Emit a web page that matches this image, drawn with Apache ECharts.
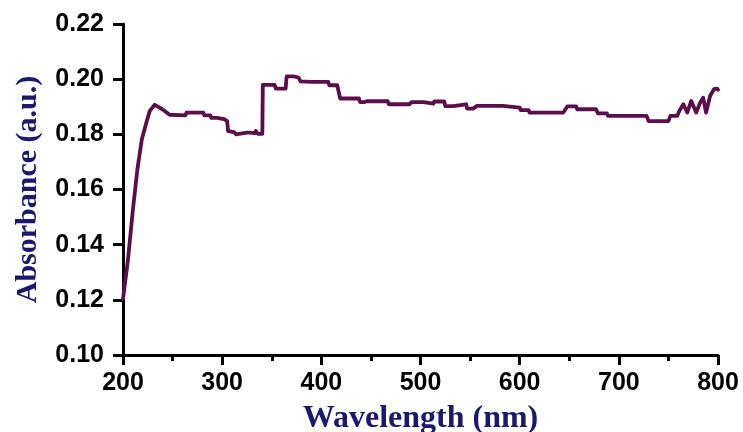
<!DOCTYPE html>
<html>
<head>
<meta charset="utf-8">
<script src="https://cdn.jsdelivr.net/npm/echarts@6/dist/echarts.min.js"></script>
<style>
  html, body { margin: 0; padding: 0; background: #fff; }
  #chart { width: 743px; height: 432px; }
</style>
</head>
<body>
<div id="chart"></div>
<script>
// UV-Vis absorbance spectrum
const wavelength = [
  200, 202, 205, 210, 214.5, 219, 224, 227, 232, 237, 242, 247, 263, 264, 281, 282,
  288, 289, 295, 296, 302, 303, 305, 306, 312, 314, 316, 325, 326, 328, 333, 334,
  336, 340.5, 341, 353, 354, 364, 365, 372, 377, 379, 390, 391, 392, 407, 408, 416,
  419, 438, 439, 443, 444, 446, 467, 468, 489, 491, 503, 504, 513, 514, 524, 525,
  533, 534, 546, 547, 553, 555, 557, 583, 584, 600, 601, 609, 610, 644, 646, 648,
  657, 658, 677, 679, 688, 689, 700, 701, 702, 712, 713, 714, 728, 730, 750, 752,
  759, 761, 765, 769, 773, 778, 782, 785, 788, 792, 796, 799, 800
]
const absorbance = [
  0.1203, 0.1260, 0.1345, 0.1527, 0.1673, 0.1782, 0.1848, 0.1885, 0.1907, 0.1897, 0.1885, 0.1871, 0.1869, 0.1879, 0.1879, 0.1869,
  0.1869, 0.1860, 0.1860, 0.1855, 0.1855, 0.1848, 0.1848, 0.1812, 0.1808, 0.1800, 0.1806, 0.1806, 0.1800, 0.1806, 0.1804, 0.1812,
  0.1802, 0.1802, 0.1979, 0.1979, 0.1966, 0.1966, 0.2010, 0.2010, 0.2006, 0.1992, 0.1990, 0.1985, 0.1990, 0.1990, 0.1978, 0.1978,
  0.1930, 0.1930, 0.1917, 0.1917, 0.1924, 0.1920, 0.1920, 0.1909, 0.1909, 0.1917, 0.1917, 0.1911, 0.1911, 0.1919, 0.1919, 0.1902,
  0.1902, 0.1909, 0.1909, 0.1893, 0.1893, 0.1887, 0.1903, 0.1903, 0.1897, 0.1897, 0.1888, 0.1888, 0.1879, 0.1879, 0.1872, 0.1901,
  0.1901, 0.1891, 0.1891, 0.1876, 0.1876, 0.1867, 0.1867, 0.1863, 0.1867, 0.1867, 0.1862, 0.1867, 0.1867, 0.1848, 0.1848, 0.1867,
  0.1867, 0.1885, 0.1909, 0.1879, 0.1921, 0.1879, 0.1915, 0.1933, 0.1879, 0.1939, 0.1964, 0.1966, 0.1962
]
const xTicks = { min: 200, max: 800, step: 100 }
const yTicks = { min: 0.10, max: 0.22, step: 0.02 }

const tickFont = {
  color: '#000',
  fontFamily: '"Liberation Sans", Arial, sans-serif',
  fontWeight: 'bold',
  fontSize: 25
}
const titleFont = {
  color: '#1c1870',
  fontFamily: '"Liberation Serif", "Times New Roman", serif',
  fontWeight: 'bold',
  fontSize: 30
}

const chart = echarts.init(document.getElementById('chart'))

chart.setOption({
  backgroundColor: '#fff',
  animation: false,
  grid: { left: 123, right: 25, top: 24, bottom: 77, containLabel: false, outerBoundsMode: 'none' },
  xAxis: {
    type: 'value',
    min: xTicks.min,
    max: xTicks.max,
    interval: xTicks.step,
    name: 'Wavelength (nm)',
    nameLocation: 'middle',
    nameGap: 48,
    nameTextStyle: { ...titleFont, fontSize: 32 },
    axisLine: { show: true, lineStyle: { color: '#000', width: 3 } },
    axisTick: { show: true, length: 10, lineStyle: { color: '#000', width: 3 } },
    minorTick: { show: true, splitNumber: 2, length: 6, lineStyle: { color: '#000', width: 3 } },
    axisLabel: { ...tickFont, margin: 16 },
    splitLine: { show: false }
  },
  yAxis: {
    type: 'value',
    min: yTicks.min,
    max: yTicks.max,
    interval: yTicks.step,
    name: 'Absorbance (a.u.)',
    nameLocation: 'middle',
    nameRotate: 90,
    nameGap: 80,
    nameTextStyle: titleFont,
    axisLine: { show: true, lineStyle: { color: '#000', width: 3 } },
    axisTick: { show: true, length: 10, lineStyle: { color: '#000', width: 3 } },
    axisLabel: { ...tickFont, margin: 19, formatter: v => v.toFixed(2) },
    splitLine: { show: false }
  },
  series: [
    {
      type: 'line',
      data: wavelength.map((w, i) => [w, absorbance[i]]),
      showSymbol: false,
      smooth: false,
      lineStyle: { color: '#5a0f4b', width: 3.8, join: 'round', cap: 'round' }
    }
  ]
})
</script>
</body>
</html>
